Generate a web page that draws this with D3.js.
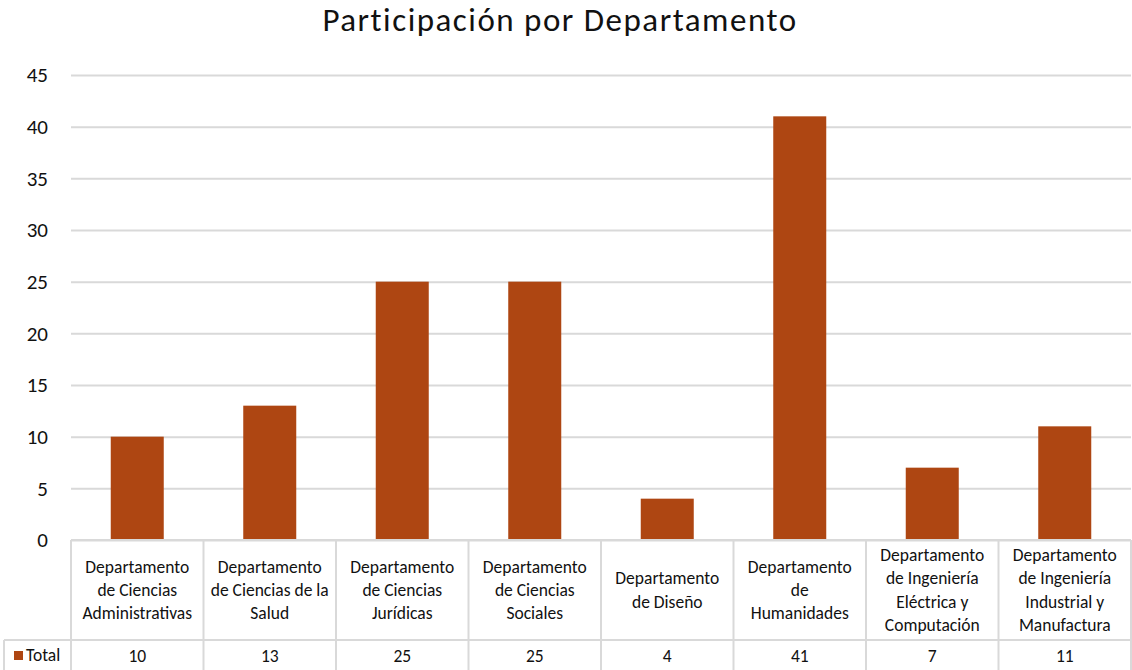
<!DOCTYPE html>
<html>
<head>
<meta charset="utf-8">
<script src="https://cdn.jsdelivr.net/npm/d3@7"></script>
<style>
  body { margin: 0; background: #fff; }
  text { font-family: Carlito, Calibri, Lato, sans-serif; }
</style>
</head>
<body>
<script>
const departamentos = [
  ["Departamento", "de Ciencias", "Administrativas"],
  ["Departamento", "de Ciencias de la", "Salud"],
  ["Departamento", "de Ciencias", "Jurídicas"],
  ["Departamento", "de Ciencias", "Sociales"],
  ["Departamento", "de Diseño"],
  ["Departamento", "de", "Humanidades"],
  ["Departamento", "de Ingeniería", "Eléctrica y", "Computación"],
  ["Departamento", "de Ingeniería", "Industrial y", "Manufactura"]
]
const totales = [10, 13, 25, 25, 4, 41, 7, 11]
const yTicks = [0, 5, 10, 15, 20, 25, 30, 35, 40, 45]
const serie = "Total"
const titulo = "Participación por Departamento"

const width = 1132
const height = 670
const plotLeft = 71, plotRight = 1131
const plotTop = 75, plotBottom = 540
const tableBottom = 640

const barColor = "#ae4612"
const gridColor = "#d9d9d9"
const fontSize = "17.5px"

const svg = d3.select("body").append("svg")
  .attr("width", width)
  .attr("height", height)

const x = d3.scaleBand()
  .domain(d3.range(totales.length))
  .range([plotLeft, plotRight])
  .paddingInner(0.6)
  .paddingOuter(0.3)

const cols = d3.scaleBand()
  .domain(d3.range(totales.length))
  .range([plotLeft, plotRight])

const y = d3.scaleLinear()
  .domain([0, 45])
  .range([plotBottom, plotTop])

// title
svg.append("text")
  .attr("x", 560)
  .attr("y", 31)
  .attr("text-anchor", "middle")
  .style("font-size", "33px")
  .style("letter-spacing", "1.5px")
  .style("fill", "#111")
  .text(titulo)

// gridlines + y labels
const yAxis = d3.axisLeft(y)
  .tickValues(yTicks)
  .tickSize(-(plotRight - plotLeft))
  .tickPadding(23)

const gY = svg.append("g")
  .attr("transform", "translate(" + plotLeft + ",0)")
  .call(yAxis)
gY.select(".domain").remove()
gY.selectAll(".tick line")
  .attr("stroke", gridColor)
  .attr("stroke-width", 2)
gY.selectAll(".tick text")
  .style("font-size", "21px")
  .style("fill", "#111")
gY.attr("font-family", null)

// bars
svg.selectAll("rect.bar")
  .data(totales)
  .enter()
  .append("rect")
  .attr("class", "bar")
  .attr("x", (d, i) => x(i))
  .attr("width", x.bandwidth())
  .attr("y", d => y(d))
  .attr("height", d => y(0) - y(d))
  .style("fill", barColor)

// data table
const table = svg.append("g")
const line = (x1, y1, x2, y2) => table.append("line")
  .attr("x1", x1).attr("y1", y1).attr("x2", x2).attr("y2", y2)
  .attr("stroke", gridColor).attr("stroke-width", 2)

line(plotLeft, plotBottom, plotRight, plotBottom)
line(4, tableBottom, plotRight, tableBottom)
line(4, tableBottom, 4, height)
d3.range(totales.length + 1).forEach(i => {
  const cx = i < totales.length ? cols(i) : plotRight
  line(cx, plotBottom, cx, height)
})

const lineH = 23.3
departamentos.forEach((lines, i) => {
  const cx = cols(i) + cols.bandwidth() / 2
  const mid = (plotBottom + tableBottom) / 2
  const y0 = mid - (lines.length - 1) * lineH / 2
  const t = table.append("text")
    .attr("text-anchor", "middle")
    .style("font-size", fontSize)
    .style("fill", "#111")
  lines.forEach((l, k) => {
    t.append("tspan")
      .attr("x", cx)
      .attr("y", y0 + k * lineH)
      .attr("dy", "0.35em")
      .text(l)
  })
})

table.selectAll("text.val")
  .data(totales)
  .enter()
  .append("text")
  .attr("class", "val")
  .attr("x", (d, i) => cols(i) + cols.bandwidth() / 2)
  .attr("y", (tableBottom + height) / 2 + 1)
  .attr("dy", "0.35em")
  .attr("text-anchor", "middle")
  .style("font-size", fontSize)
  .style("fill", "#111")
  .text(d => d)

// legend key
table.append("rect")
  .attr("x", 14).attr("y", 651)
  .attr("width", 9).attr("height", 9)
  .style("fill", barColor)
table.append("text")
  .attr("x", 26)
  .attr("y", 655)
  .attr("dy", "0.35em")
  .style("font-size", fontSize)
  .style("fill", "#111")
  .text(serie)
</script>
</body>
</html>
